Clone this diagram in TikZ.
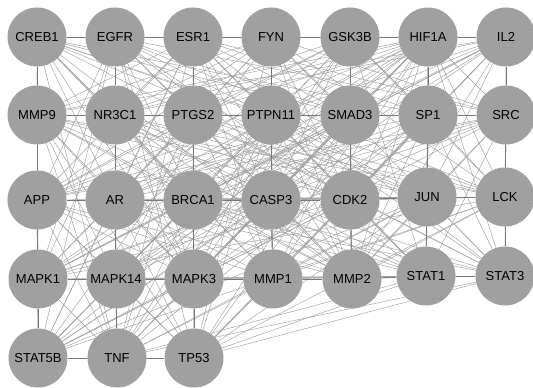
\documentclass[tikz,border=0pt]{standalone}
\usepackage{fontspec}
\setmainfont{Liberation Sans}
\definecolor{nodegray}{RGB}{160,160,160}
\definecolor{edgegray}{RGB}{160,160,160}
\definecolor{edgedark}{RGB}{120,120,120}
\pgfdeclarelayer{edges}
\pgfsetlayers{edges,main}
\begin{document}
\begin{tikzpicture}[x=1pt,y=1pt,
  gene/.style={circle, fill=nodegray, minimum size=59pt, inner sep=0pt, font=\fontsize{13}{13}\selectfont},
  link/.style={draw=edgegray, line width=0.45pt},
  nbr/.style={draw=edgedark, line width=0.9pt}]
\useasboundingbox (0,0) rectangle (533,388);
\foreach \n/\x/\y [count=\i] in {
  CREB1/37/37, EGFR/115/37, ESR1/193/37, FYN/271/37, GSK3B/350/37, HIF1A/428/37, IL2/506/37,
  MMP9/37/115, NR3C1/115/115, PTGS2/193/115, PTPN11/271/115, SMAD3/350/115, SP1/428/115, SRC/506/115,
  APP/37/200, AR/115/200, BRCA1/193/200, CASP3/271/200, CDK2/350/200, JUN/427/197, LCK/505/197,
  MAPK1/38/279, MAPK14/116/279, MAPK3/194/279, MMP1/273/279, MMP2/352/279, STAT1/426/276, STAT3/505/276,
  STAT5B/38/358, TNF/117/358, TP53/194/358}
  \node[gene] (n\i) at (\x,{388-\y}) {\n};
\begin{pgfonlayer}{edges}
\foreach \i in {1,...,30}{
  \pgfmathtruncatemacro\s{\i+1}
  \foreach \j in {\s,...,31}{
    \pgfmathtruncatemacro\h{mod(\i*37+\j*53+\i*\j*11,17)}
    \ifnum\h<11 \draw[link] (n\i) -- (n\j);\fi
  }
}
\foreach \a/\b in {1/2,2/3,3/4,4/5,5/6,6/7,
  8/9,9/10,10/11,11/12,12/13,13/14,
  15/16,16/17,17/18,18/19,19/20,20/21,
  22/23,23/24,24/25,25/26,26/27,27/28,
  29/30,30/31,
  1/8,2/9,3/10,4/11,5/12,6/13,7/14,
  8/15,9/16,10/17,11/18,12/19,13/20,14/21,
  15/22,16/23,17/24,18/25,19/26,20/27,21/28,
  22/29,23/30,24/31}
  \draw[nbr] (n\a) -- (n\b);
\end{pgfonlayer}
\end{tikzpicture}
\end{document}
